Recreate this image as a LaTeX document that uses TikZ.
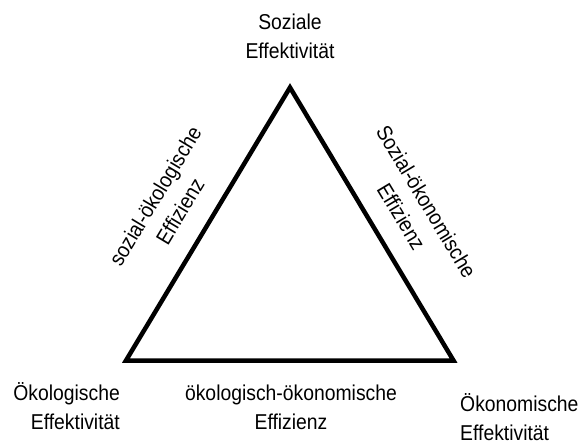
\documentclass[tikz,border=0pt]{standalone}
\usepackage{fontspec}
\setmainfont[FakeStretch=0.9]{Liberation Sans}
\begin{document}
\begin{tikzpicture}[x=1pt,y=-1pt,
  lbl/.style={inner sep=0pt, font=\fontsize{21.5}{29}\selectfont},
  edge/.style={line width=4.5pt, line join=miter}]
  \useasboundingbox (0,0) rectangle (579,444);
  % corners of the triangle
  \coordinate (top) at (290,87.5);
  \coordinate (bl) at (126,360.5);
  \coordinate (br) at (453.5,360.5);
  \draw[edge] (top) -- (br) -- (bl) -- cycle;
  % corner labels
  \node[lbl, align=center] (soz) at (290,36) {Soziale\\Effektivität};
  \node[lbl, align=right, anchor=east] (oek) at (120,406) {Ökologische\\Effektivität};
  \node[lbl, align=left, anchor=west] (oko) at (460,417) {Ökonomische\\Effektivität};
  % side labels
  \node[lbl, align=center] (bottomside) at (291,407) {ökologisch-ökonomische\\Effizienz};
  \node[lbl, align=center, rotate=59] (leftside) at (167.5,203.5) {sozial-ökologische\\Effizienz};
  \node[lbl, align=center, rotate=-59] (rightside) at (414,209) {Sozial-ökonomische\\Effizienz};
\end{tikzpicture}
\end{document}
